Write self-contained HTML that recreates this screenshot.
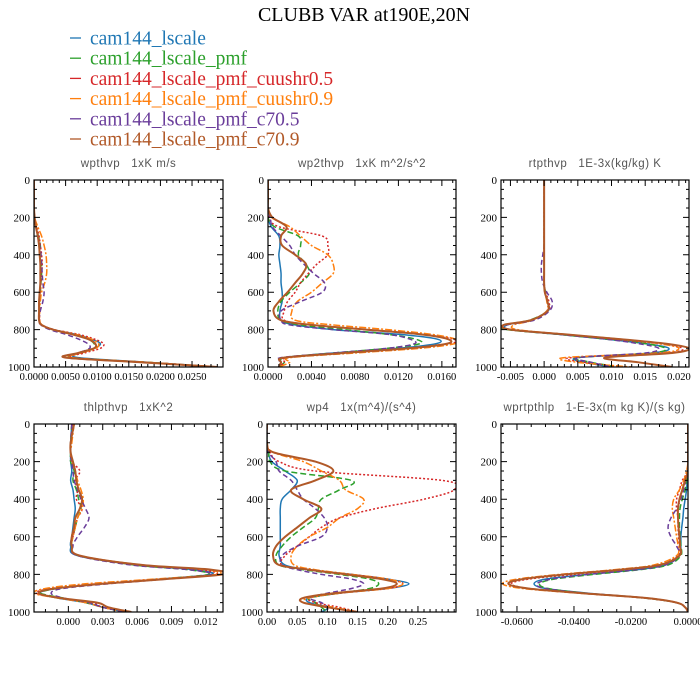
<!DOCTYPE html>
<html><head><meta charset="utf-8"><style>
html,body{margin:0;padding:0;background:#fff;width:700px;height:700px;overflow:hidden}
svg text{font-family:"Liberation Serif",serif}
.ptitle{font-family:"Liberation Sans",sans-serif;fill:#555;font-size:11.5px;letter-spacing:0.5px;white-space:pre}
</style></head><body>
<svg id="chart" width="700" height="700" xmlns="http://www.w3.org/2000/svg">
<text x="364" y="21" font-size="20" text-anchor="middle">CLUBB VAR at190E,20N</text>
<g id="legend"></g>
<g id="panels"></g>
</svg>
<script>
const seriesNames = ["cam144_lscale","cam144_lscale_pmf","cam144_lscale_pmf_cuushr0.5","cam144_lscale_pmf_cuushr0.9","cam144_lscale_pmf_c70.5","cam144_lscale_pmf_c70.9"];
const levels = [0,100,150,200,250,300,350,400,450,500,550,600,650,700,750,775,800,825,850,875,900,925,950,975,1000];
const yTicks = [0,200,400,600,800,1000];

// panel 1: wpthvp
const p1Blue   = [0,0,0,0.0001,0.0003,0.0006,0.0008,0.0009,0.001,0.001,0.001,0.0009,0.0008,0.0008,0.0008,0.0012,0.003,0.0065,0.009,0.0105,0.0095,0.007,0.007,0.018,0.029];
const p1Green  = [0,0,0,0.0001,0.0003,0.0007,0.001,0.0011,0.0012,0.0012,0.0011,0.001,0.0009,0.0008,0.0008,0.0012,0.003,0.006,0.0085,0.0095,0.0095,0.0075,0.006,0.018,0.029];
const p1Red    = [0,0,0,0.0001,0.0004,0.0008,0.001,0.0012,0.0013,0.0012,0.0011,0.001,0.0009,0.0009,0.0009,0.0013,0.0032,0.007,0.0095,0.011,0.0105,0.008,0.006,0.018,0.029];
const p1Orange = [0,0,0,0.0001,0.0006,0.0012,0.0016,0.0019,0.002,0.002,0.0017,0.0012,0.001,0.0009,0.0009,0.0013,0.003,0.0065,0.009,0.0102,0.0098,0.0075,0.006,0.018,0.029];
const p1Purple = [0,0,0,0.0001,0.0003,0.0006,0.0009,0.0011,0.0012,0.0013,0.0014,0.0016,0.0014,0.001,0.0008,0.0011,0.0025,0.005,0.007,0.0085,0.0088,0.007,0.005,0.017,0.029];
const p1Brown  = [0,0,0,0.0001,0.0003,0.0006,0.0008,0.0009,0.001,0.001,0.001,0.0009,0.0008,0.0008,0.0008,0.0012,0.003,0.006,0.0085,0.0097,0.0095,0.007,0.005,0.017,0.029];
// panel 2: wp2thvp
const p2Blue   = [0,0,0,0,0.0003,0.001,0.0011,0.001,0.0011,0.0012,0.0012,0.0013,0.0013,0.0011,0.0012,0.0025,0.006,0.012,0.0155,0.0155,0.012,0.006,0.0015,0.0012,0.001];
const p2Green  = [0,0,0,0,0.0006,0.0028,0.003,0.0028,0.0035,0.0038,0.003,0.002,0.0012,0.0009,0.0012,0.003,0.007,0.011,0.0135,0.014,0.011,0.006,0.0015,0.0015,0.001];
const p2Red    = [0,0,0,0.0001,0.001,0.005,0.0055,0.0055,0.0045,0.0037,0.003,0.0025,0.0018,0.0015,0.0015,0.004,0.009,0.014,0.017,0.0168,0.013,0.007,0.0018,0.0015,0.001];
const p2Orange = [0,0,0,0.0003,0.002,0.003,0.004,0.0055,0.006,0.006,0.005,0.004,0.0027,0.0022,0.0025,0.006,0.011,0.015,0.0172,0.0172,0.014,0.008,0.002,0.002,0.001];
const p2Purple = [0,0,0,0.0002,0.0004,0.0012,0.002,0.0025,0.0033,0.0042,0.0052,0.005,0.003,0.0012,0.0012,0.002,0.006,0.011,0.013,0.0135,0.011,0.006,0.0012,0.0012,0.001];
const p2Brown  = [0,0,0,0.0004,0.0017,0.0012,0.0013,0.0025,0.0035,0.0032,0.0025,0.0018,0.001,0.0005,0.0012,0.004,0.009,0.014,0.0165,0.0165,0.013,0.007,0.0015,0.0012,0.001];
// panel 3: rtpthvp
const p3Blue   = [0,0,0,0,0,0,0,0,0,0,0,0.0001,0.0005,0.0006,-0.002,-0.0055,-0.005,0.002,0.009,0.015,0.0185,0.016,0.005,0.006,0.01];
const p3Green  = [0,0,0,0,0,0,0,0,0,0,0,0.0002,0.0005,0.0005,-0.0022,-0.006,-0.0055,0.002,0.009,0.015,0.018,0.016,0.005,0.007,0.011];
const p3Red    = [0,0,0,0,0,0,0,0,0,0,0,0.0002,0.0007,0.0006,-0.002,-0.0058,-0.005,0.003,0.01,0.017,0.0205,0.018,0.004,0.006,0.012];
const p3Orange = [0,0,0,0,0,0,0,0,0,0,0,0.0001,0.0004,0.0004,-0.0018,-0.0045,-0.004,0.003,0.011,0.017,0.02,0.017,0.003,0.005,0.013];
const p3Purple = [0,0,0,0,0,0,0,-0.0002,-0.0004,-0.0004,-0.0002,0.0004,0.0012,0.0008,-0.0015,-0.0055,-0.005,0.002,0.009,0.014,0.017,0.015,0.005,0.007,0.01];
const p3Brown  = [0,0,0,0,0,0,0,0,0,0,0,0.0001,0.0005,0.0005,-0.002,-0.006,-0.005,0.003,0.011,0.018,0.0215,0.019,0.009,0.014,0.019];
// panel 4: thlpthvp
const p4Blue   = [0.0003,0.0002,0.0002,0.0002,0.0003,0.0002,0.0004,0.0005,0.0006,0.0005,0.0004,0.0003,0.0002,0.0008,0.006,0.011,0.0125,0.008,0.003,-0.001,-0.0025,-0.001,0.0015,0.003,0.005];
const p4Green  = [0.0003,0.0002,0.0002,0.0002,0.0005,0.0004,0.0007,0.0009,0.0011,0.0008,0.0006,0.0004,0.0003,0.0009,0.0058,0.0105,0.0122,0.008,0.003,-0.001,-0.0024,-0.0005,0.0015,0.003,0.005];
const p4Red    = [0.0004,0.0002,0.0002,0.0003,0.001,0.0006,0.0008,0.0007,0.0012,0.0008,0.0006,0.0004,0.0003,0.0009,0.006,0.0115,0.0128,0.008,0.0025,-0.0015,-0.0028,-0.0008,0.002,0.003,0.005];
const p4Orange = [0.0005,0.0003,0.0002,0.0003,0.0006,0.0008,0.0011,0.0013,0.0012,0.0008,0.0006,0.0004,0.0003,0.001,0.0065,0.012,0.013,0.0075,0.0015,-0.002,-0.003,-0.001,0.0015,0.003,0.005];
const p4Purple = [0.0003,0.0002,0.0002,0.0003,0.0004,0.0005,0.0008,0.0011,0.0015,0.0018,0.0014,0.0008,0.0004,0.0008,0.0055,0.0105,0.0125,0.0085,0.0035,-0.0005,-0.0015,-0.0005,0.0018,0.003,0.005];
const p4Brown  = [0.0005,0.0002,0.0002,0.0004,0.0006,0.0007,0.0009,0.0012,0.001,0.0006,0.0005,0.0003,0.0003,0.001,0.0065,0.0125,0.0135,0.0085,0.003,-0.0012,-0.0026,-0.0008,0.0025,0.0035,0.0055];
// panel 5: wp4
const p5Blue   = [0,0,0.002,0.008,0.03,0.05,0.04,0.025,0.022,0.022,0.022,0.022,0.022,0.02,0.03,0.07,0.14,0.2,0.235,0.2,0.12,0.07,0.07,0.1,0.09];
const p5Green  = [0,0,0.003,0.005,0.03,0.14,0.12,0.09,0.085,0.08,0.06,0.04,0.025,0.015,0.02,0.06,0.12,0.17,0.185,0.17,0.12,0.07,0.08,0.09,0.1];
const p5Red    = [0,0,0.005,0.02,0.08,0.29,0.31,0.26,0.18,0.12,0.09,0.07,0.05,0.03,0.025,0.07,0.14,0.2,0.225,0.2,0.12,0.07,0.08,0.12,0.15];
const p5Orange = [0,0,0.01,0.06,0.09,0.12,0.13,0.16,0.15,0.12,0.1,0.07,0.05,0.04,0.045,0.08,0.14,0.2,0.225,0.2,0.12,0.07,0.06,0.11,0.15];
const p5Purple = [0,0,0.002,0.015,0.02,0.04,0.05,0.06,0.08,0.095,0.1,0.09,0.05,0.025,0.025,0.05,0.09,0.14,0.16,0.14,0.1,0.07,0.09,0.1,0.1];
const p5Brown  = [0,0,0.01,0.08,0.11,0.08,0.04,0.06,0.09,0.07,0.05,0.03,0.015,0.01,0.02,0.07,0.13,0.19,0.215,0.19,0.11,0.06,0.06,0.1,0.15];
// panel 6: wprtpthlp
const p6Blue   = [0,0,0,0,0,-0.0003,-0.0005,-0.001,-0.0015,-0.0018,-0.0022,-0.0025,-0.0025,-0.003,-0.008,-0.018,-0.035,-0.05,-0.054,-0.05,-0.035,-0.015,-0.004,-0.001,0];
const p6Green  = [0,0,0,0,0,-0.0005,-0.001,-0.002,-0.0028,-0.003,-0.003,-0.0028,-0.0025,-0.0025,-0.007,-0.017,-0.033,-0.047,-0.052,-0.049,-0.036,-0.016,-0.004,-0.001,0];
const p6Red    = [0,0,0,0,0,-0.002,-0.003,-0.004,-0.004,-0.0035,-0.0035,-0.0033,-0.003,-0.0035,-0.01,-0.022,-0.04,-0.056,-0.062,-0.056,-0.038,-0.016,-0.004,-0.001,0];
const p6Orange = [0,0,0,0,-0.0005,-0.0015,-0.003,-0.005,-0.0055,-0.005,-0.0045,-0.004,-0.0035,-0.004,-0.012,-0.026,-0.045,-0.06,-0.065,-0.058,-0.038,-0.015,-0.004,-0.001,0];
const p6Purple = [0,0,0,0,0,-0.0008,-0.0015,-0.0025,-0.004,-0.006,-0.007,-0.006,-0.004,-0.003,-0.008,-0.018,-0.035,-0.048,-0.053,-0.05,-0.036,-0.015,-0.004,-0.001,0];
const p6Brown  = [0,0,0,0,0,-0.001,-0.002,-0.003,-0.0035,-0.0035,-0.0033,-0.003,-0.0028,-0.003,-0.01,-0.024,-0.043,-0.058,-0.063,-0.056,-0.037,-0.015,-0.004,-0.001,0];

const p1XTicks = [0,0.005,0.01,0.015,0.02,0.025];
const p1XLabels = ["0.0000","0.0050","0.0100","0.0150","0.0200","0.0250"];
const p2XTicks = [0,0.004,0.008,0.012,0.016];
const p2XLabels = ["0.0000","0.0040","0.0080","0.0120","0.0160"];
const p3XTicks = [-0.005,0,0.005,0.01,0.015,0.02];
const p3XLabels = ["-0.005","0.000","0.005","0.010","0.015","0.020"];
const p4XTicks = [0,0.003,0.006,0.009,0.012];
const p4XLabels = ["0.000","0.003","0.006","0.009","0.012"];
const p5XTicks = [0,0.05,0.1,0.15,0.2,0.25];
const p5XLabels = ["0.00","0.05","0.10","0.15","0.20","0.25"];
const p6XTicks = [-0.06,-0.04,-0.02,0];
const p6XLabels = ["-0.0600","-0.0400","-0.0200","0.0000"];

const colors = ["#1f77b4","#2ca02c","#d62728","#ff7f0e","#6a3d9a","#b15928"];
const dashes = ["","6,3","2,2","7,2,2,2","5,3","" ];
const widths = [1.5,1.5,1.5,1.5,1.5,2];

const panels = [
 {name:"wpthvp", title:"wpthvp   1xK m/s", x0:34,x1:223,y0:180,y1:367, xmin:0,xmax:0.0299, minor:0.001, ticks:p1XTicks, labels:p1XLabels, data:[p1Blue,p1Green,p1Red,p1Orange,p1Purple,p1Brown]},
 {name:"wp2thvp", title:"wp2thvp   1xK m^2/s^2", x0:268,x1:456,y0:180,y1:367, xmin:0,xmax:0.0173, minor:0.001, ticks:p2XTicks, labels:p2XLabels, data:[p2Blue,p2Green,p2Red,p2Orange,p2Purple,p2Brown]},
 {name:"rtpthvp", title:"rtpthvp   1E-3x(kg/kg) K", x0:501,x1:689,y0:180,y1:367, xmin:-0.0064,xmax:0.0215, minor:0.001, ticks:p3XTicks, labels:p3XLabels, data:[p3Blue,p3Green,p3Red,p3Orange,p3Purple,p3Brown]},
 {name:"thlpthvp", title:"thlpthvp   1xK^2", x0:34,x1:223,y0:424,y1:612, xmin:-0.003,xmax:0.0135, minor:0.001, ticks:p4XTicks, labels:p4XLabels, data:[p4Blue,p4Green,p4Red,p4Orange,p4Purple,p4Brown]},
 {name:"wp4", title:"wp4   1x(m^4)/(s^4)", x0:267,x1:456,y0:424,y1:612, xmin:0,xmax:0.313, minor:0.01, ticks:p5XTicks, labels:p5XLabels, data:[p5Blue,p5Green,p5Red,p5Orange,p5Purple,p5Brown]},
 {name:"wprtpthlp", title:"wprtpthlp   1-E-3x(m kg K)/(s kg)", x0:501,x1:688,y0:424,y1:612, xmin:-0.0656,xmax:0, minor:0.005, ticks:p6XTicks, labels:p6XLabels, data:[p6Blue,p6Green,p6Red,p6Orange,p6Purple,p6Brown]}
];
const NS="http://www.w3.org/2000/svg";
function mk(tag, attrs, parent){const e=document.createElementNS(NS,tag);for(const k in attrs)e.setAttribute(k,attrs[k]);parent.appendChild(e);return e;}

const leg=document.getElementById('legend');
seriesNames.forEach((n,i)=>{
  const y=38+i*20.2;
  const ln=mk('line',{x1:70,x2:81,y1:y,y2:y,stroke:colors[i],'stroke-width':1.3},leg);
  
  
  const t=mk('text',{x:90,y:y+6.5,'font-size':19.5,fill:colors[i]},leg);
  t.textContent=n;
  
  
});

const root=document.getElementById('panels');
panels.forEach(p=>{
  const g=mk('g',{},root);
  
  
  const xs=v=>p.x0+(v-p.xmin)/(p.xmax-p.xmin)*(p.x1-p.x0);
  const ys=v=>p.y0+v/1000*(p.y1-p.y0);
  const tt=mk('text',{x:(p.x0+p.x1)/2,y:p.y0-13,'text-anchor':'middle',class:'ptitle'},g);
  tt.textContent=p.title;
  
  
  const cid='clip-'+p.name;
  const cp=mk('clipPath',{id:cid},g);
  mk('rect',{x:p.x0,y:p.y0,width:p.x1-p.x0,height:p.y1-p.y0},cp);
  const lines=mk('g',{'clip-path':'url(#'+cid+')'},g);
  p.data.forEach((arr,si)=>{
    const pts=arr.map((v,k)=>[xs(v),ys(levels[k])]);
    let d='M'+pts[0][0].toFixed(2)+','+pts[0][1].toFixed(2);
    for(let k=0;k<pts.length-1;k++){
      const a=pts[Math.max(k-1,0)],b=pts[k],c=pts[k+1],e=pts[Math.min(k+2,pts.length-1)];
      const c1=[b[0]+(c[0]-a[0])/6,b[1]+(c[1]-a[1])/6],c2=[c[0]-(e[0]-b[0])/6,c[1]-(e[1]-b[1])/6];
      d+=' C'+c1[0].toFixed(2)+','+c1[1].toFixed(2)+' '+c2[0].toFixed(2)+','+c2[1].toFixed(2)+' '+c[0].toFixed(2)+','+c[1].toFixed(2);
    }
    const path=mk('path',{d:d,fill:'none',stroke:colors[si],'stroke-width':widths[si],'stroke-dasharray':dashes[si],'stroke-linejoin':'round'},lines);
    
    
  });
  const fr=mk('rect',{x:p.x0,y:p.y0,width:p.x1-p.x0,height:p.y1-p.y0,fill:'none',stroke:'#000','stroke-width':1.2},g);
  
  
  let td='';
  for(let v=0;v<=1000;v+=50){
    const y=ys(v), L=(v%200===0)?6:3;
    td+=`M${p.x0},${y}h${L}M${p.x1},${y}h${-L}`;
  }
  yTicks.forEach(v=>{
    const t=mk('text',{x:p.x0-4,y:ys(v)+4,'text-anchor':'end','font-size':11},g);
    t.textContent=String(v);
    
    
  });
  const start=Math.ceil(p.xmin/p.minor-1e-6);
  for(let k=start;k*p.minor<=p.xmax+1e-9;k++){
    const x=xs(k*p.minor);
    td+=`M${x},${p.y1}v-3M${x},${p.y0}v3`;
  }
  p.ticks.forEach((v,i)=>{
    const x=xs(v);
    td+=`M${x},${p.y1}v-6M${x},${p.y0}v6`;
    const t=mk('text',{x:x,y:p.y1+13,'text-anchor':'middle','font-size':10.5},g);
    t.textContent=p.labels[i];
    
    
  });
  const tk=mk('path',{d:td,stroke:'#000','stroke-width':1,fill:'none'},g);
  
  
});
</script>
</body></html>
